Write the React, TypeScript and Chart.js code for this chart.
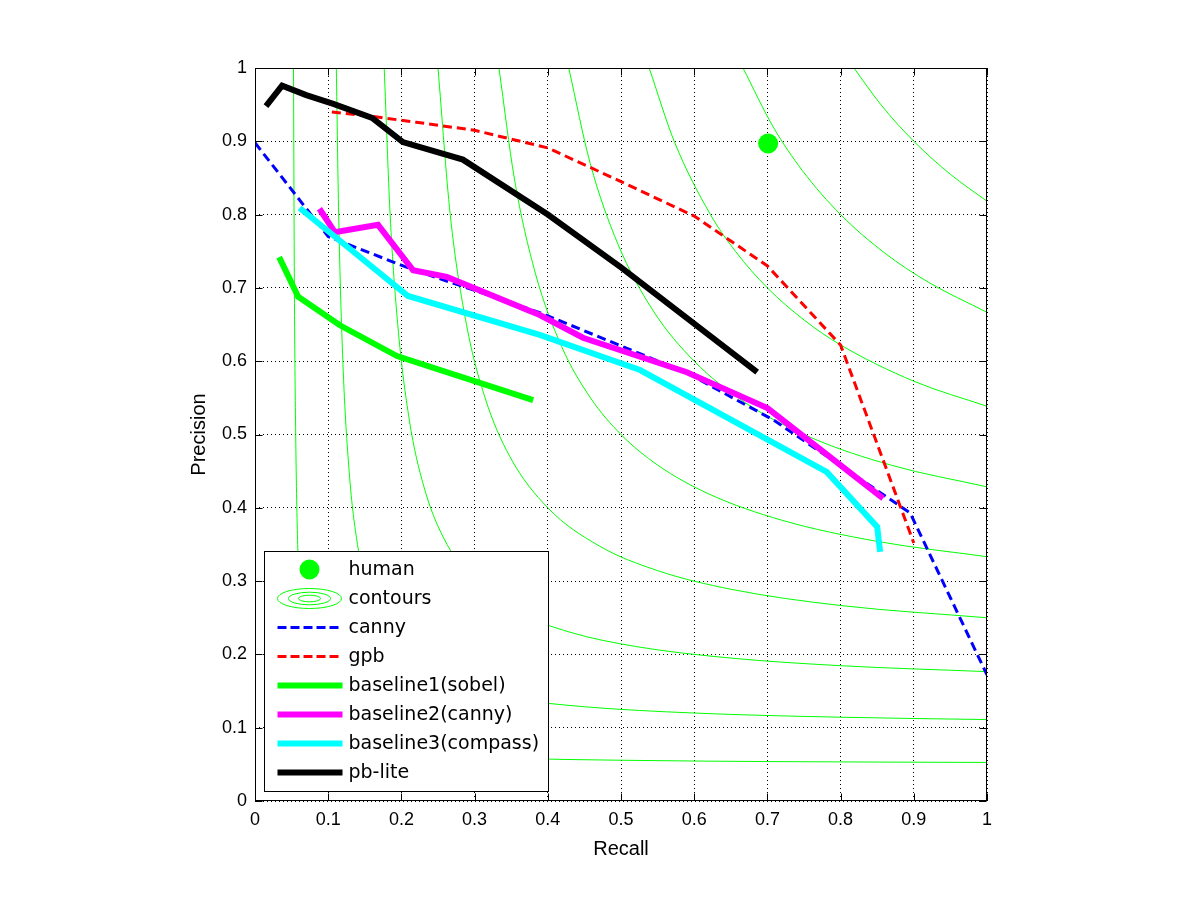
import React, { useEffect, useRef } from 'react';
import { Chart, registerables } from 'chart.js';

Chart.register(...registerables);

// ---- tick labels ----
const tickValues = [0, 0.1, 0.2, 0.3, 0.4, 0.5, 0.6, 0.7, 0.8, 0.9, 1];
const xTickLabels = ['0', '0.1', '0.2', '0.3', '0.4', '0.5', '0.6', '0.7', '0.8', '0.9', '1'];
const yTickLabels = ['0', '0.1', '0.2', '0.3', '0.4', '0.5', '0.6', '0.7', '0.8', '0.9', '1'];

// ---- series (recall / precision) ----
const humanRecall = [0.701];
const humanPrecision = [0.897];

const cannyRecall = [0, 0.1, 0.21, 0.39, 0.59, 0.708, 0.895, 1.0];
const cannyPrecision = [0.898, 0.77, 0.727, 0.666, 0.584, 0.52, 0.393, 0.172];

const gpbRecall = [0.105, 0.16, 0.22, 0.3, 0.4, 0.5, 0.6, 0.7, 0.8, 0.9];
const gpbPrecision = [0.94, 0.934, 0.926, 0.915, 0.891, 0.845, 0.798, 0.73, 0.622, 0.352];

const sobelRecall = [0.033, 0.059, 0.116, 0.194, 0.38];
const sobelPrecision = [0.742, 0.688, 0.649, 0.607, 0.547];

const baseCannyRecall = [0.088, 0.109, 0.168, 0.216, 0.262, 0.389, 0.448, 0.59, 0.7, 0.858];
const baseCannyPrecision = [0.808, 0.776, 0.786, 0.724, 0.715, 0.663, 0.632, 0.585, 0.536, 0.413];

const compassRecall = [0.061, 0.209, 0.389, 0.526, 0.781, 0.85, 0.854];
const compassPrecision = [0.809, 0.689, 0.636, 0.588, 0.449, 0.374, 0.34];

const pbliteRecall = [0.015, 0.037, 0.07, 0.107, 0.16, 0.202, 0.284, 0.4, 0.5, 0.686];
const pblitePrecision = [0.948, 0.976, 0.963, 0.951, 0.932, 0.899, 0.875, 0.8, 0.728, 0.585];

// ---- iso-F contours, [recall, precision] points ----
const isoF1: [number, number][] = [[0.0526, 1], [0.0538, 0.7], [0.0556, 0.5], [0.0583, 0.35], [0.0625, 0.25], [0.0692, 0.18], [0.0778, 0.14], [0.0857, 0.12], [0.1, 0.1], [0.12, 0.0857], [0.14, 0.0778], [0.18, 0.0692], [0.25, 0.0625], [0.35, 0.0583], [0.5, 0.0556], [0.7, 0.0538], [1, 0.0526]];
const isoF2: [number, number][] = [[0.1111, 1], [0.1143, 0.8], [0.12, 0.6], [0.1286, 0.45], [0.14, 0.35], [0.1556, 0.28], [0.1714, 0.24], [0.2, 0.2], [0.24, 0.1714], [0.28, 0.1556], [0.35, 0.14], [0.45, 0.1286], [0.6, 0.12], [0.8, 0.1143], [1, 0.1111]];
const isoF3: [number, number][] = [[0.1765, 1], [0.1846, 0.8], [0.195, 0.65], [0.2108, 0.52], [0.2304, 0.43], [0.2571, 0.36], [0.3, 0.3], [0.36, 0.2571], [0.43, 0.2304], [0.52, 0.2108], [0.65, 0.195], [0.8, 0.1846], [1, 0.1765]];
const isoF4: [number, number][] = [[0.25, 1], [0.2667, 0.8], [0.2889, 0.65], [0.3143, 0.55], [0.3481, 0.47], [0.4, 0.4], [0.47, 0.3481], [0.55, 0.3143], [0.65, 0.2889], [0.8, 0.2667], [1, 0.25]];
const isoF5: [number, number][] = [[0.3333, 1], [0.3542, 0.85], [0.383, 0.72], [0.4189, 0.62], [0.4583, 0.55], [0.5, 0.5], [0.55, 0.4583], [0.62, 0.4189], [0.72, 0.383], [0.85, 0.3542], [1, 0.3333]];
const isoF6: [number, number][] = [[0.4286, 1], [0.4579, 0.87], [0.4957, 0.76], [0.5432, 0.67], [0.6, 0.6], [0.67, 0.5432], [0.76, 0.4957], [0.87, 0.4579], [1, 0.4286]];
const isoF7: [number, number][] = [[0.5385, 1], [0.5727, 0.9], [0.6222, 0.8], [0.6563, 0.75], [0.7, 0.7], [0.75, 0.6563], [0.8, 0.6222], [0.9, 0.5727], [1, 0.5385]];
const isoF8: [number, number][] = [[0.6667, 1], [0.7077, 0.92], [0.7478, 0.86], [0.8, 0.8], [0.86, 0.7478], [0.92, 0.7077], [1, 0.6667]];
const isoF9: [number, number][] = [[0.8182, 1], [0.855, 0.95], [0.9, 0.9], [0.95, 0.855], [1, 0.8182]];
const contourSets = [isoF1, isoF2, isoF3, isoF4, isoF5, isoF6, isoF7, isoF8, isoF9];

const legendLabels = ['human', 'contours', 'canny', 'gpb', 'baseline1(sobel)', 'baseline2(canny)', 'baseline3(compass)', 'pb-lite'];

const GREEN = '#00ff00';
const BLUE = '#0000ff';
const RED = '#ff0000';
const MAGENTA = '#ff00ff';
const CYAN = '#00ffff';
const BLACK = '#000000';

const zip = (r: number[], p: number[]) => r.map((x, i) => ({ x, y: p[i] }));

const frameLegendPlugin = {
  id: 'frameLegend',
  afterDraw(chart: any) {
    const { ctx, chartArea: a, scales } = chart;
    ctx.save();
    ctx.setLineDash([]);
    ctx.strokeStyle = '#000';
    ctx.lineWidth = 1;
    const L = Math.round(a.left) + 0.5;
    const R = Math.round(a.right) - 0.5;
    const T = Math.round(a.top) + 0.5;
    const B = Math.round(a.bottom) - 0.5;
    ctx.strokeRect(L, T, R - L, B - T);
    const tl = 7;
    ctx.beginPath();
    tickValues.forEach((v) => {
      const px = Math.round(scales.x.getPixelForValue(v)) + 0.5;
      ctx.moveTo(px, B); ctx.lineTo(px, B - tl);
      ctx.moveTo(px, T); ctx.lineTo(px, T + tl);
      const py = Math.round(scales.y.getPixelForValue(v)) + 0.5;
      ctx.moveTo(L, py); ctx.lineTo(L + tl, py);
      ctx.moveTo(R, py); ctx.lineTo(R - tl, py);
    });
    ctx.stroke();

    // legend
    const lw = 284, lh = 240;
    const lx = Math.round(a.left) + 9.5;
    const ly = Math.round(a.bottom) - 9.5 - lh;
    ctx.fillStyle = '#fff';
    ctx.fillRect(lx, ly, lw, lh);
    ctx.strokeStyle = '#000';
    ctx.lineWidth = 1;
    ctx.strokeRect(lx, ly, lw, lh);

    const rowY = (i: number) => ly + 18 + i * 29;
    const sx0 = lx + 13, sx1 = lx + 78, cx = lx + 45;
    const tx = lx + 84;

    // human
    ctx.fillStyle = GREEN;
    ctx.beginPath();
    ctx.arc(cx, rowY(0), 10, 0, Math.PI * 2);
    ctx.fill();
    // contours icon
    ctx.strokeStyle = GREEN;
    ctx.lineWidth = 1;
    [[32, 10], [21, 6.3], [11, 3.3]].forEach(([rx, ry]) => {
      ctx.beginPath();
      ctx.ellipse(cx, rowY(1), rx, ry, 0, 0, Math.PI * 2);
      ctx.stroke();
    });
    const lineSample = (i: number, color: string, width: number, dash: number[]) => {
      ctx.strokeStyle = color;
      ctx.lineWidth = width;
      ctx.setLineDash(dash);
      ctx.beginPath();
      ctx.moveTo(sx0, rowY(i));
      ctx.lineTo(sx1, rowY(i));
      ctx.stroke();
      ctx.setLineDash([]);
    };
    lineSample(2, BLUE, 3, [9, 4]);
    lineSample(3, RED, 3, [9, 4]);
    lineSample(4, GREEN, 6, []);
    lineSample(5, MAGENTA, 6, []);
    lineSample(6, CYAN, 6, []);
    lineSample(7, BLACK, 6, []);

    ctx.fillStyle = '#000';
    ctx.font = '19px "DejaVu Sans", sans-serif';
    ctx.textAlign = 'left';
    ctx.textBaseline = 'middle';
    legendLabels.forEach((t, i) => ctx.fillText(t, tx, rowY(i) + 1));
    ctx.restore();
  },
};

export default function App() {
  const ref = useRef<HTMLCanvasElement>(null);
  useEffect(() => {
    if (!ref.current) return;
    const contourDatasets = contourSets.map((pts, i) => ({
      label: 'contour' + (i + 1),
      data: pts.map(([x, y]) => ({ x, y })),
      showLine: true,
      borderColor: GREEN,
      borderWidth: 1,
      pointRadius: 0,
      pointHoverRadius: 0,
      cubicInterpolationMode: 'monotone' as const,
      order: 20 + i,
    }));
    const lineDs = (label: string, r: number[], p: number[], color: string, width: number, dash: number[], order: number) => ({
      label,
      data: zip(r, p),
      showLine: true,
      borderColor: color,
      backgroundColor: color,
      borderWidth: width,
      borderDash: dash,
      pointRadius: 0,
      pointHoverRadius: 0,
      tension: 0,
      order,
    });
    const datasets: any[] = [
      ...contourDatasets,
      {
        label: 'human',
        data: zip(humanRecall, humanPrecision),
        showLine: false,
        pointRadius: 10,
        pointBorderWidth: 0,
        pointBackgroundColor: GREEN,
        backgroundColor: GREEN,
        borderColor: GREEN,
        order: 10,
      },
      lineDs('canny', cannyRecall, cannyPrecision, BLUE, 3, [9, 5], 9),
      lineDs('gpb', gpbRecall, gpbPrecision, RED, 3, [9, 5], 8),
      lineDs('baseline1(sobel)', sobelRecall, sobelPrecision, GREEN, 6, [], 7),
      lineDs('baseline2(canny)', baseCannyRecall, baseCannyPrecision, MAGENTA, 6, [], 6),
      lineDs('baseline3(compass)', compassRecall, compassPrecision, CYAN, 6, [], 5),
      lineDs('pb-lite', pbliteRecall, pblitePrecision, BLACK, 6, [], 4),
    ];
    const tickFont = { family: '"Liberation Sans", Arial, sans-serif', size: 18 };
    const titleFont = { family: '"Liberation Sans", Arial, sans-serif', size: 20 };
    const chart = new Chart(ref.current, {
      type: 'scatter',
      data: { datasets },
      options: {
        animation: false,
        responsive: false,
        devicePixelRatio: 1,
        events: [],
        layout: { padding: { left: 180, right: 213, top: 68, bottom: 29 } },
        plugins: { legend: { display: false }, tooltip: { enabled: false } },
        scales: {
          x: {
            type: 'linear',
            min: 0,
            max: 1,
            afterFit: (s: any) => { s.height = 70; },
            ticks: {
              stepSize: 0.1,
              autoSkip: false,
              maxRotation: 0,
              padding: 8,
              color: '#000',
              font: tickFont,
              callback: (_v: any, i: number) => xTickLabels[i],
            },
            grid: { color: '#000', lineWidth: 1, drawTicks: false },
            border: { display: false, dash: [1, 3] },
            title: {
              display: true,
              text: 'Recall',
              color: '#000',
              font: titleFont,
              padding: { top: 0, bottom: 10 },
            },
          },
          y: {
            type: 'linear',
            min: 0,
            max: 1,
            afterFit: (s: any) => { s.width = 75; },
            ticks: {
              stepSize: 0.1,
              autoSkip: false,
              padding: 8,
              color: '#000',
              font: tickFont,
              callback: (_v: any, i: number) => yTickLabels[i],
            },
            grid: { color: '#000', lineWidth: 1, drawTicks: false },
            border: { display: false, dash: [1, 3] },
            title: {
              display: true,
              text: 'Precision',
              color: '#000',
              font: titleFont,
              padding: { top: 7, bottom: 0 },
            },
          },
        },
      },
      plugins: [frameLegendPlugin],
    } as any);
    return () => chart.destroy();
  }, []);
  return (
    <div style={{ position: 'absolute', left: 0, top: 0, width: 1200, height: 900, background: '#fff' }}>
      <canvas ref={ref} width={1200} height={900} style={{ width: 1200, height: 900, display: 'block' }} />
    </div>
  );
}
